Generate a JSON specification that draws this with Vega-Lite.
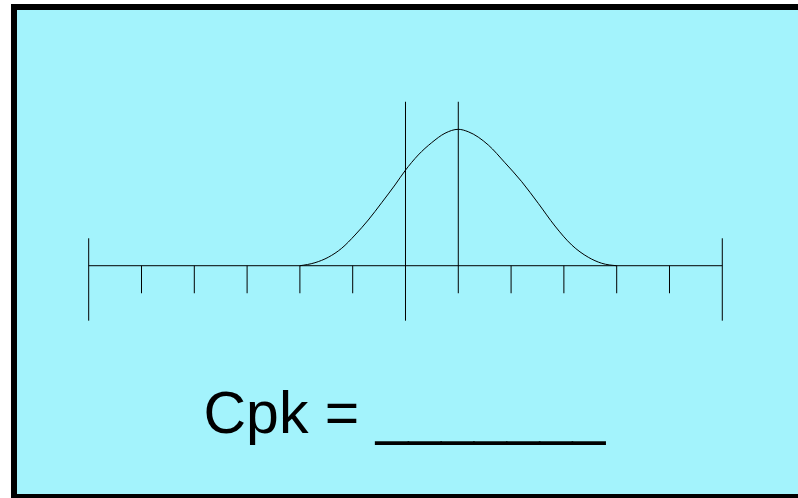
{
  "$schema": "https://vega.github.io/schema/vega-lite/v6.json",
  "width": 798,
  "height": 498,
  "padding": 0,
  "autosize": {"type": "fit", "contains": "padding"},
  "background": "#ffffff",
  "config": {"view": {"stroke": null}},
  "datasets": {
    "box": [{"x": -8.415, "x2": 7.5, "y": 1.897, "y2": -1.696}],
    "segments": [
      {"name": "baseline", "x": -7, "x2": 5, "y": 0, "y2": 0},
      {"name": "LSL", "x": -7, "x2": -7, "y": 0.201, "y2": -0.403},
      {"name": "USL", "x": 5, "x2": 5, "y": 0.201, "y2": -0.403},
      {"name": "target", "x": -1, "x2": -1, "y": 1.202, "y2": -0.403},
      {"name": "mean", "x": 0, "x2": 0, "y": 1.202, "y2": -0.202},
      {"name": "tick", "x": -6, "x2": -6, "y": 0, "y2": -0.202},
      {"name": "tick", "x": -5, "x2": -5, "y": 0, "y2": -0.202},
      {"name": "tick", "x": -4, "x2": -4, "y": 0, "y2": -0.202},
      {"name": "tick", "x": -3, "x2": -3, "y": 0, "y2": -0.202},
      {"name": "tick", "x": -2, "x2": -2, "y": 0, "y2": -0.202},
      {"name": "tick", "x": 1, "x2": 1, "y": 0, "y2": -0.202},
      {"name": "tick", "x": 2, "x2": 2, "y": 0, "y2": -0.202},
      {"name": "tick", "x": 3, "x2": 3, "y": 0, "y2": -0.202},
      {"name": "tick", "x": 4, "x2": 4, "y": 0, "y2": -0.202}
    ],
    "curve": [
      {"x": -3.0, "y": 0},
      {"x": -2.715, "y": 0.022},
      {"x": -2.462, "y": 0.062},
      {"x": -2.208, "y": 0.128},
      {"x": -1.956, "y": 0.225},
      {"x": -1.705, "y": 0.335},
      {"x": -1.451, "y": 0.462},
      {"x": -1.199, "y": 0.592},
      {"x": -1.009, "y": 0.696},
      {"x": -0.758, "y": 0.812},
      {"x": -0.504, "y": 0.902},
      {"x": -0.252, "y": 0.971},
      {"x": 0, "y": 1.0},
      {"x": 0.189, "y": 0.982},
      {"x": 0.568, "y": 0.885},
      {"x": 0.884, "y": 0.755},
      {"x": 1.201, "y": 0.616},
      {"x": 1.515, "y": 0.457},
      {"x": 1.831, "y": 0.291},
      {"x": 2.148, "y": 0.152},
      {"x": 2.462, "y": 0.062},
      {"x": 2.716, "y": 0.018},
      {"x": 3.0, "y": 0}
    ],
    "label": [{"text": "Cpk = _______", "x": -4.826, "y": -1.229}]
  },
  "layer": [
    {
      "data": {"name": "box"},
      "mark": {"type": "rect", "fill": "#a3f3fc", "stroke": "#000000", "strokeWidth": 6, "clip": true},
      "encoding": {
        "x": {"field": "x", "type": "quantitative", "scale": {"domain": [-8.68, 6.434], "nice": false, "zero": false}, "axis": null},
        "x2": {"field": "x2"},
        "y": {"field": "y", "type": "quantitative", "scale": {"domain": [-1.703, 1.948], "nice": false, "zero": false}, "axis": null},
        "y2": {"field": "y2"}
      }
    },
    {
      "data": {"name": "segments"},
      "mark": {"type": "rule", "color": "#000000", "strokeWidth": 1},
      "encoding": {
        "x": {"field": "x", "type": "quantitative", "scale": {"domain": [-8.68, 6.434], "nice": false, "zero": false}, "axis": null},
        "x2": {"field": "x2"},
        "y": {"field": "y", "type": "quantitative", "scale": {"domain": [-1.703, 1.948], "nice": false, "zero": false}, "axis": null},
        "y2": {"field": "y2"}
      }
    },
    {
      "data": {"name": "curve"},
      "mark": {"type": "line", "color": "#000000", "strokeWidth": 1, "interpolate": "monotone"},
      "encoding": {
        "x": {"field": "x", "type": "quantitative", "scale": {"domain": [-8.68, 6.434], "nice": false, "zero": false}, "axis": null},
        "y": {"field": "y", "type": "quantitative", "scale": {"domain": [-1.703, 1.948], "nice": false, "zero": false}, "axis": null}
      }
    },
    {
      "data": {"name": "label"},
      "mark": {"type": "text", "align": "left", "baseline": "alphabetic", "font": "Liberation Sans", "fontSize": 59, "color": "#000000"},
      "encoding": {
        "x": {"field": "x", "type": "quantitative", "scale": {"domain": [-8.68, 6.434], "nice": false, "zero": false}, "axis": null},
        "y": {"field": "y", "type": "quantitative", "scale": {"domain": [-1.703, 1.948], "nice": false, "zero": false}, "axis": null},
        "text": {"field": "text"}
      }
    }
  ]
}
